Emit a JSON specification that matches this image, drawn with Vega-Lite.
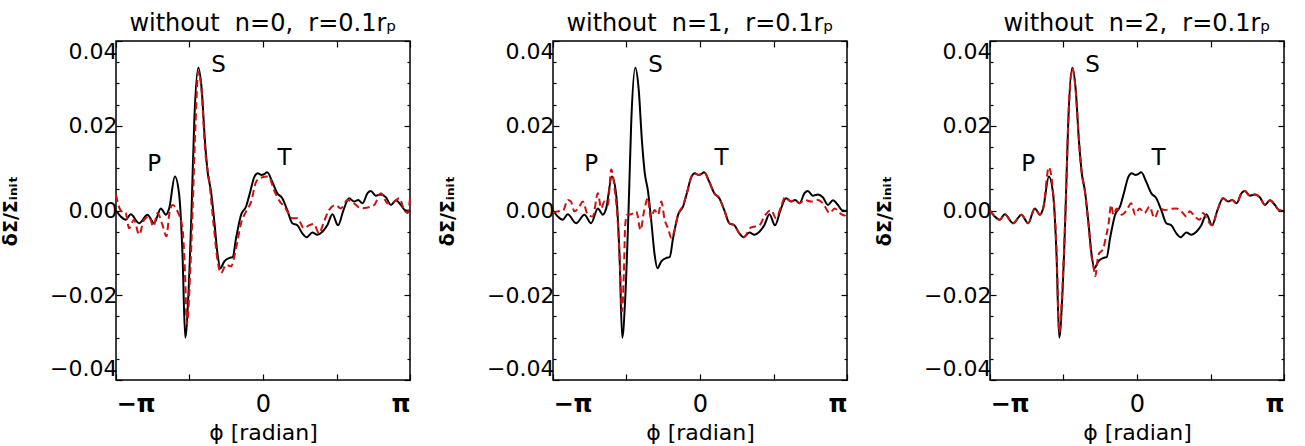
{
  "$schema": "https://vega.github.io/schema/vega-lite/v6.json",
  "autosize": {"type": "pad"},
  "padding": {"left": 0, "top": 11, "right": 0, "bottom": 0},
  "background": "white",
  "config": {
    "view": {"stroke": "black", "strokeWidth": 1.5},
    "font": "DejaVu Sans",
    "title": {"font": "DejaVu Sans", "fontSize": 24, "fontWeight": "normal", "color": "black", "offset": 0, "anchor": "middle"},
    "axis": {"grid": false, "domain": false, "labelFont": "DejaVu Sans", "titleFont": "DejaVu Sans", "labelColor": "black", "titleColor": "black", "tickColor": "black", "tickWidth": 1.2}
  },
  "datasets": {
    "full": [
      {"phi": -3.142, "v": 0.0}, {"phi": -3.041, "v": -0.0014}, {"phi": -2.934, "v": -0.0022}, {"phi": -2.826, "v": -0.0009},
      {"phi": -2.648, "v": -0.003}, {"phi": -2.470, "v": -0.001}, {"phi": -2.327, "v": -0.003}, {"phi": -2.183, "v": 0.0005},
      {"phi": -2.076, "v": -0.001}, {"phi": -2.005, "v": 0.0005}, {"phi": -1.883, "v": 0.008}, {"phi": -1.791, "v": 0.0037},
      {"phi": -1.720, "v": -0.0105}, {"phi": -1.662, "v": -0.030}, {"phi": -1.598, "v": -0.0207}, {"phi": -1.527, "v": 0.0},
      {"phi": -1.469, "v": 0.021}, {"phi": -1.383, "v": 0.0337}, {"phi": -1.312, "v": 0.0288}, {"phi": -1.240, "v": 0.0163},
      {"phi": -1.184, "v": 0.0092}, {"phi": -1.111, "v": 0.0045}, {"phi": -1.040, "v": -0.0026}, {"phi": -0.969, "v": -0.0105},
      {"phi": -0.911, "v": -0.0136}, {"phi": -0.826, "v": -0.012}, {"phi": -0.718, "v": -0.0112}, {"phi": -0.648, "v": -0.011},
      {"phi": -0.575, "v": -0.0065}, {"phi": -0.468, "v": -0.001}, {"phi": -0.360, "v": 0.001}, {"phi": -0.290, "v": 0.0037},
      {"phi": -0.182, "v": 0.008}, {"phi": -0.112, "v": 0.0088}, {"phi": -0.039, "v": 0.0084}, {"phi": 0.011, "v": 0.0085},
      {"phi": 0.090, "v": 0.009}, {"phi": 0.197, "v": 0.0068}, {"phi": 0.304, "v": 0.0041}, {"phi": 0.412, "v": 0.0029},
      {"phi": 0.519, "v": 0.0001}, {"phi": 0.626, "v": -0.003}, {"phi": 0.733, "v": -0.0035}, {"phi": 0.841, "v": -0.0054},
      {"phi": 0.933, "v": -0.0063}, {"phi": 1.055, "v": -0.0052}, {"phi": 1.162, "v": -0.0057}, {"phi": 1.270, "v": -0.005},
      {"phi": 1.377, "v": -0.0034}, {"phi": 1.484, "v": -0.0009}, {"phi": 1.604, "v": -0.0035}, {"phi": 1.720, "v": 0.0001},
      {"phi": 1.840, "v": 0.0029}, {"phi": 1.947, "v": 0.0021}, {"phi": 2.033, "v": 0.0025}, {"phi": 2.127, "v": 0.0017},
      {"phi": 2.234, "v": 0.0041}, {"phi": 2.305, "v": 0.0046}, {"phi": 2.412, "v": 0.0035}, {"phi": 2.520, "v": 0.0038},
      {"phi": 2.627, "v": 0.0031}, {"phi": 2.734, "v": 0.0013}, {"phi": 2.841, "v": 0.0024}, {"phi": 2.949, "v": 0.0013},
      {"phi": 3.034, "v": 0.0001}, {"phi": 3.142, "v": -0.0001}
    ],
    "red0": [
      {"phi": -3.142, "v": 0.0037}, {"phi": -3.041, "v": 0.0}, {"phi": -2.934, "v": -0.0006}, {"phi": -2.863, "v": -0.0042},
      {"phi": -2.756, "v": -0.0022}, {"phi": -2.648, "v": -0.0057}, {"phi": -2.541, "v": -0.0022}, {"phi": -2.434, "v": -0.0014},
      {"phi": -2.342, "v": -0.0038}, {"phi": -2.256, "v": -0.0006}, {"phi": -2.149, "v": -0.0034}, {"phi": -2.063, "v": -0.0061},
      {"phi": -2.005, "v": -0.001}, {"phi": -1.934, "v": 0.0013}, {"phi": -1.827, "v": -0.0002}, {"phi": -1.720, "v": -0.0042},
      {"phi": -1.668, "v": -0.0144}, {"phi": -1.626, "v": -0.0268}, {"phi": -1.555, "v": -0.0144}, {"phi": -1.505, "v": -0.0002},
      {"phi": -1.448, "v": 0.0186}, {"phi": -1.383, "v": 0.0328}, {"phi": -1.312, "v": 0.0281}, {"phi": -1.240, "v": 0.0147},
      {"phi": -1.147, "v": 0.0068}, {"phi": -1.055, "v": -0.0034}, {"phi": -0.969, "v": -0.012}, {"phi": -0.896, "v": -0.0148},
      {"phi": -0.789, "v": -0.0128}, {"phi": -0.682, "v": -0.0132}, {"phi": -0.575, "v": -0.0089}, {"phi": -0.468, "v": -0.003},
      {"phi": -0.360, "v": -0.0002}, {"phi": -0.253, "v": 0.0021}, {"phi": -0.146, "v": 0.0068}, {"phi": -0.054, "v": 0.0077},
      {"phi": 0.124, "v": 0.008}, {"phi": 0.232, "v": 0.0049}, {"phi": 0.339, "v": 0.0025}, {"phi": 0.482, "v": 0.0005},
      {"phi": 0.626, "v": -0.0018}, {"phi": 0.733, "v": -0.0018}, {"phi": 0.875, "v": -0.0042}, {"phi": 0.982, "v": -0.0035},
      {"phi": 1.089, "v": -0.0032}, {"phi": 1.197, "v": -0.0054}, {"phi": 1.304, "v": -0.0026}, {"phi": 1.411, "v": 0.0001},
      {"phi": 1.555, "v": 0.0013}, {"phi": 1.662, "v": 0.0005}, {"phi": 1.806, "v": 0.0025}, {"phi": 1.947, "v": 0.0017},
      {"phi": 2.091, "v": 0.0005}, {"phi": 2.234, "v": 0.0007}, {"phi": 2.376, "v": 0.0013}, {"phi": 2.520, "v": 0.0041},
      {"phi": 2.663, "v": 0.0017}, {"phi": 2.805, "v": 0.0021}, {"phi": 2.912, "v": 0.0029}, {"phi": 3.019, "v": 0.0001},
      {"phi": 3.092, "v": -0.0006}, {"phi": 3.142, "v": 0.0029}
    ],
    "red1": [
      {"phi": -3.142, "v": -0.0006}, {"phi": -3.041, "v": -0.0002}, {"phi": -2.927, "v": 0.0}, {"phi": -2.826, "v": 0.0025},
      {"phi": -2.756, "v": 0.0021}, {"phi": -2.685, "v": -0.0002}, {"phi": -2.578, "v": 0.0009}, {"phi": -2.505, "v": 0.0021},
      {"phi": -2.398, "v": -0.001}, {"phi": -2.290, "v": -0.0014}, {"phi": -2.183, "v": 0.0041}, {"phi": -2.112, "v": 0.0005},
      {"phi": -2.042, "v": 0.0021}, {"phi": -1.969, "v": 0.0013}, {"phi": -1.898, "v": 0.0097}, {"phi": -1.827, "v": 0.0053},
      {"phi": -1.754, "v": -0.0034}, {"phi": -1.705, "v": -0.0144}, {"phi": -1.668, "v": -0.0238}, {"phi": -1.626, "v": -0.0144},
      {"phi": -1.598, "v": -0.0034}, {"phi": -1.555, "v": -0.001}, {"phi": -1.469, "v": -0.0009}, {"phi": -1.362, "v": -0.0002},
      {"phi": -1.270, "v": -0.0046}, {"phi": -1.197, "v": -0.0002}, {"phi": -1.111, "v": 0.0029}, {"phi": -1.055, "v": -0.0018},
      {"phi": -0.969, "v": 0.0001}, {"phi": -0.896, "v": -0.001}, {"phi": -0.826, "v": 0.0021}, {"phi": -0.755, "v": -0.0022},
      {"phi": -0.682, "v": -0.0042}, {"phi": -0.611, "v": -0.0065}, {"phi": -0.553, "v": -0.005}, {"phi": -0.468, "v": -0.001},
      {"phi": -0.360, "v": 0.0013}, {"phi": -0.290, "v": 0.0037}, {"phi": -0.182, "v": 0.008}, {"phi": -0.112, "v": 0.0088},
      {"phi": -0.039, "v": 0.0084}, {"phi": 0.011, "v": 0.0085}, {"phi": 0.090, "v": 0.009}, {"phi": 0.197, "v": 0.0068},
      {"phi": 0.304, "v": 0.0041}, {"phi": 0.412, "v": 0.0029}, {"phi": 0.519, "v": 0.0001}, {"phi": 0.626, "v": -0.003},
      {"phi": 0.733, "v": -0.0035}, {"phi": 0.841, "v": -0.0054}, {"phi": 0.933, "v": -0.0063}, {"phi": 1.089, "v": -0.0040},
      {"phi": 1.270, "v": -0.0035}, {"phi": 1.377, "v": -0.0014}, {"phi": 1.518, "v": 0.0001}, {"phi": 1.625, "v": -0.0018},
      {"phi": 1.733, "v": 0.0009}, {"phi": 1.818, "v": 0.0031}, {"phi": 1.947, "v": 0.0021}, {"phi": 2.033, "v": 0.0025},
      {"phi": 2.127, "v": 0.0017}, {"phi": 2.234, "v": 0.0025}, {"phi": 2.376, "v": 0.0021}, {"phi": 2.520, "v": 0.0025},
      {"phi": 2.627, "v": 0.0017}, {"phi": 2.771, "v": -0.0006}, {"phi": 2.878, "v": 0.0005}, {"phi": 2.985, "v": -0.0006},
      {"phi": 3.092, "v": -0.0012}, {"phi": 3.142, "v": -0.0006}
    ],
    "red2": [
      {"phi": -3.142, "v": 0.0}, {"phi": -3.041, "v": -0.0014}, {"phi": -2.934, "v": -0.0022}, {"phi": -2.826, "v": -0.0009},
      {"phi": -2.648, "v": -0.003}, {"phi": -2.470, "v": -0.001}, {"phi": -2.327, "v": -0.003}, {"phi": -2.183, "v": 0.0005},
      {"phi": -2.076, "v": -0.001}, {"phi": -2.005, "v": 0.0005}, {"phi": -1.883, "v": 0.0102}, {"phi": -1.791, "v": 0.004},
      {"phi": -1.720, "v": -0.009}, {"phi": -1.662, "v": -0.0288}, {"phi": -1.598, "v": -0.019}, {"phi": -1.527, "v": 0.0005},
      {"phi": -1.469, "v": 0.021}, {"phi": -1.383, "v": 0.0335}, {"phi": -1.312, "v": 0.0285}, {"phi": -1.240, "v": 0.0165},
      {"phi": -1.184, "v": 0.0092}, {"phi": -1.111, "v": 0.0043}, {"phi": -1.040, "v": -0.003}, {"phi": -0.969, "v": -0.011},
      {"phi": -0.911, "v": -0.0144}, {"phi": -0.890, "v": -0.0155}, {"phi": -0.826, "v": -0.0105}, {"phi": -0.718, "v": -0.0089},
      {"phi": -0.669, "v": -0.0065}, {"phi": -0.611, "v": -0.0034}, {"phi": -0.553, "v": 0.0013}, {"phi": -0.504, "v": -0.001},
      {"phi": -0.433, "v": 0.0005}, {"phi": -0.326, "v": -0.001}, {"phi": -0.219, "v": 0.0001}, {"phi": -0.124, "v": 0.0017},
      {"phi": -0.039, "v": -0.001}, {"phi": 0.054, "v": 0.0005}, {"phi": 0.161, "v": -0.0006}, {"phi": 0.268, "v": 0.0009},
      {"phi": 0.375, "v": -0.0018}, {"phi": 0.482, "v": 0.0005}, {"phi": 0.590, "v": 0.0001}, {"phi": 0.733, "v": 0.0004},
      {"phi": 0.841, "v": 0.0005}, {"phi": 0.948, "v": -0.0002}, {"phi": 1.055, "v": -0.0014}, {"phi": 1.126, "v": -0.0002},
      {"phi": 1.233, "v": -0.0014}, {"phi": 1.340, "v": -0.0022}, {"phi": 1.411, "v": -0.0006}, {"phi": 1.484, "v": -0.0018},
      {"phi": 1.604, "v": -0.0035}, {"phi": 1.720, "v": 0.0001}, {"phi": 1.840, "v": 0.0029}, {"phi": 1.947, "v": 0.0021},
      {"phi": 2.033, "v": 0.0025}, {"phi": 2.127, "v": 0.0017}, {"phi": 2.234, "v": 0.0041}, {"phi": 2.305, "v": 0.0046},
      {"phi": 2.412, "v": 0.0035}, {"phi": 2.520, "v": 0.0038}, {"phi": 2.627, "v": 0.0031}, {"phi": 2.734, "v": 0.0013},
      {"phi": 2.841, "v": 0.0024}, {"phi": 2.949, "v": 0.0013}, {"phi": 3.034, "v": 0.0001}, {"phi": 3.142, "v": -0.0001}
    ],
    "labels": [
      {"label": "P", "phi": -2.327, "v": 0.0109},
      {"label": "S", "phi": -0.948, "v": 0.0343},
      {"label": "T", "phi": 0.461, "v": 0.0125}
    ]
  },
  "spacing": 143,
  "bounds": "flush",
  "hconcat": [
    {
      "width": 294, "height": 339,
      "title": "without\u00a0 n=0,\u00a0 r=0.1rₚ",
      "resolve": {"axis": {"x": "independent", "y": "independent"}},
      "layer": [
        {"mark": {"type": "rule", "strokeDash": [2, 4], "strokeWidth": 1.8, "color": "black"},
         "encoding": {"y": {"datum": 0, "type": "quantitative", "scale": {"domain": [-0.04, 0.04], "nice": false, "zero": false},
           "axis": {"orient": "right", "values": [-0.035, -0.03, -0.025, -0.015, -0.01, -0.005, 0.005, 0.01, 0.015, 0.025, 0.03, 0.035], "labels": false, "tickSize": -3, "title": null}}}},
        {"data": {"name": "full"}, "mark": {"type": "line", "color": "black", "strokeWidth": 2, "interpolate": "monotone"},
         "encoding": {
           "x": {"field": "phi", "type": "quantitative", "scale": {"domain": [-3.14159, 3.14159], "nice": false, "zero": false},
             "axis": {"orient": "bottom", "values": [-3.14159, -1.5708, 0, 1.5708, 3.14159], "tickSize": -6, "labelFontSize": 24, "labelPadding": 18,
               "labelExpr": "datum.value < -3 ? '−π' : datum.value > 3 ? 'π' : abs(datum.value) < 0.01 ? '0' : ''",
               "labelFontWeight": {"condition": {"test": "abs(datum.value) < 0.01", "value": "normal"}, "value": "bold"},
               "title": "ϕ [radian]", "titleFontSize": 22, "titleFontWeight": "normal", "titlePadding": 6}},
           "y": {"field": "v", "type": "quantitative", "scale": {"domain": [-0.04, 0.04], "nice": false, "zero": false},
             "axis": {"orient": "left", "values": [-0.04, -0.02, 0, 0.02, 0.04], "format": ".2f", "labelFlush": true, "tickSize": -6, "labelFontSize": 22, "labelPadding": 5,
               "title": "δΣ/Σᵢₙᵢₜ", "titleFontSize": 19, "titleFontWeight": "bold", "titlePadding": 29}}
         }},
        {"data": {"name": "red0"}, "mark": {"type": "line", "color": "#cc1111", "strokeWidth": 2, "strokeDash": [7, 4], "interpolate": "monotone"},
         "encoding": {
           "x": {"field": "phi", "type": "quantitative", "axis": {"orient": "top", "values": [-3.14159, -1.5708, 0, 1.5708, 3.14159], "labels": false, "tickSize": -6, "title": null}},
           "y": {"field": "v", "type": "quantitative", "axis": {"orient": "right", "values": [-0.04, -0.02, 0, 0.02, 0.04], "labels": false, "tickSize": -6, "title": null}}
         }},
        {"data": {"name": "labels"}, "mark": {"type": "text", "fontSize": 23, "font": "DejaVu Sans", "color": "black", "align": "center", "baseline": "middle"},
         "encoding": {
           "x": {"field": "phi", "type": "quantitative", "axis": null},
           "y": {"field": "v", "type": "quantitative", "axis": {"orient": "left", "values": [-0.035, -0.03, -0.025, -0.015, -0.01, -0.005, 0.005, 0.01, 0.015, 0.025, 0.03, 0.035], "labels": false, "tickSize": -3, "title": null}},
           "text": {"field": "label"}
         }}
      ]
    },
    {
      "width": 294, "height": 339,
      "title": "without\u00a0 n=1,\u00a0 r=0.1rₚ",
      "resolve": {"axis": {"x": "independent", "y": "independent"}},
      "layer": [
        {"mark": {"type": "rule", "strokeDash": [2, 4], "strokeWidth": 1.8, "color": "black"},
         "encoding": {"y": {"datum": 0, "type": "quantitative", "scale": {"domain": [-0.04, 0.04], "nice": false, "zero": false},
           "axis": {"orient": "right", "values": [-0.035, -0.03, -0.025, -0.015, -0.01, -0.005, 0.005, 0.01, 0.015, 0.025, 0.03, 0.035], "labels": false, "tickSize": -3, "title": null}}}},
        {"data": {"name": "full"}, "mark": {"type": "line", "color": "black", "strokeWidth": 2, "interpolate": "monotone"},
         "encoding": {
           "x": {"field": "phi", "type": "quantitative", "scale": {"domain": [-3.14159, 3.14159], "nice": false, "zero": false},
             "axis": {"orient": "bottom", "values": [-3.14159, -1.5708, 0, 1.5708, 3.14159], "tickSize": -6, "labelFontSize": 24, "labelPadding": 18,
               "labelExpr": "datum.value < -3 ? '−π' : datum.value > 3 ? 'π' : abs(datum.value) < 0.01 ? '0' : ''",
               "labelFontWeight": {"condition": {"test": "abs(datum.value) < 0.01", "value": "normal"}, "value": "bold"},
               "title": "ϕ [radian]", "titleFontSize": 22, "titleFontWeight": "normal", "titlePadding": 6}},
           "y": {"field": "v", "type": "quantitative", "scale": {"domain": [-0.04, 0.04], "nice": false, "zero": false},
             "axis": {"orient": "left", "values": [-0.04, -0.02, 0, 0.02, 0.04], "format": ".2f", "labelFlush": true, "tickSize": -6, "labelFontSize": 22, "labelPadding": 5,
               "title": "δΣ/Σᵢₙᵢₜ", "titleFontSize": 19, "titleFontWeight": "bold", "titlePadding": 29}}
         }},
        {"data": {"name": "red1"}, "mark": {"type": "line", "color": "#cc1111", "strokeWidth": 2, "strokeDash": [7, 4], "interpolate": "monotone"},
         "encoding": {
           "x": {"field": "phi", "type": "quantitative", "axis": {"orient": "top", "values": [-3.14159, -1.5708, 0, 1.5708, 3.14159], "labels": false, "tickSize": -6, "title": null}},
           "y": {"field": "v", "type": "quantitative", "axis": {"orient": "right", "values": [-0.04, -0.02, 0, 0.02, 0.04], "labels": false, "tickSize": -6, "title": null}}
         }},
        {"data": {"name": "labels"}, "mark": {"type": "text", "fontSize": 23, "font": "DejaVu Sans", "color": "black", "align": "center", "baseline": "middle"},
         "encoding": {
           "x": {"field": "phi", "type": "quantitative", "axis": null},
           "y": {"field": "v", "type": "quantitative", "axis": {"orient": "left", "values": [-0.035, -0.03, -0.025, -0.015, -0.01, -0.005, 0.005, 0.01, 0.015, 0.025, 0.03, 0.035], "labels": false, "tickSize": -3, "title": null}},
           "text": {"field": "label"}
         }}
      ]
    },
    {
      "width": 294, "height": 339,
      "title": "without\u00a0 n=2,\u00a0 r=0.1rₚ",
      "resolve": {"axis": {"x": "independent", "y": "independent"}},
      "layer": [
        {"mark": {"type": "rule", "strokeDash": [2, 4], "strokeWidth": 1.8, "color": "black"},
         "encoding": {"y": {"datum": 0, "type": "quantitative", "scale": {"domain": [-0.04, 0.04], "nice": false, "zero": false},
           "axis": {"orient": "right", "values": [-0.035, -0.03, -0.025, -0.015, -0.01, -0.005, 0.005, 0.01, 0.015, 0.025, 0.03, 0.035], "labels": false, "tickSize": -3, "title": null}}}},
        {"data": {"name": "full"}, "mark": {"type": "line", "color": "black", "strokeWidth": 2, "interpolate": "monotone"},
         "encoding": {
           "x": {"field": "phi", "type": "quantitative", "scale": {"domain": [-3.14159, 3.14159], "nice": false, "zero": false},
             "axis": {"orient": "bottom", "values": [-3.14159, -1.5708, 0, 1.5708, 3.14159], "tickSize": -6, "labelFontSize": 24, "labelPadding": 18,
               "labelExpr": "datum.value < -3 ? '−π' : datum.value > 3 ? 'π' : abs(datum.value) < 0.01 ? '0' : ''",
               "labelFontWeight": {"condition": {"test": "abs(datum.value) < 0.01", "value": "normal"}, "value": "bold"},
               "title": "ϕ [radian]", "titleFontSize": 22, "titleFontWeight": "normal", "titlePadding": 6}},
           "y": {"field": "v", "type": "quantitative", "scale": {"domain": [-0.04, 0.04], "nice": false, "zero": false},
             "axis": {"orient": "left", "values": [-0.04, -0.02, 0, 0.02, 0.04], "format": ".2f", "labelFlush": true, "tickSize": -6, "labelFontSize": 22, "labelPadding": 5,
               "title": "δΣ/Σᵢₙᵢₜ", "titleFontSize": 19, "titleFontWeight": "bold", "titlePadding": 29}}
         }},
        {"data": {"name": "red2"}, "mark": {"type": "line", "color": "#cc1111", "strokeWidth": 2, "strokeDash": [7, 4], "interpolate": "monotone"},
         "encoding": {
           "x": {"field": "phi", "type": "quantitative", "axis": {"orient": "top", "values": [-3.14159, -1.5708, 0, 1.5708, 3.14159], "labels": false, "tickSize": -6, "title": null}},
           "y": {"field": "v", "type": "quantitative", "axis": {"orient": "right", "values": [-0.04, -0.02, 0, 0.02, 0.04], "labels": false, "tickSize": -6, "title": null}}
         }},
        {"data": {"name": "labels"}, "mark": {"type": "text", "fontSize": 23, "font": "DejaVu Sans", "color": "black", "align": "center", "baseline": "middle"},
         "encoding": {
           "x": {"field": "phi", "type": "quantitative", "axis": null},
           "y": {"field": "v", "type": "quantitative", "axis": {"orient": "left", "values": [-0.035, -0.03, -0.025, -0.015, -0.01, -0.005, 0.005, 0.01, 0.015, 0.025, 0.03, 0.035], "labels": false, "tickSize": -3, "title": null}},
           "text": {"field": "label"}
         }}
      ]
    }
  ]
}
